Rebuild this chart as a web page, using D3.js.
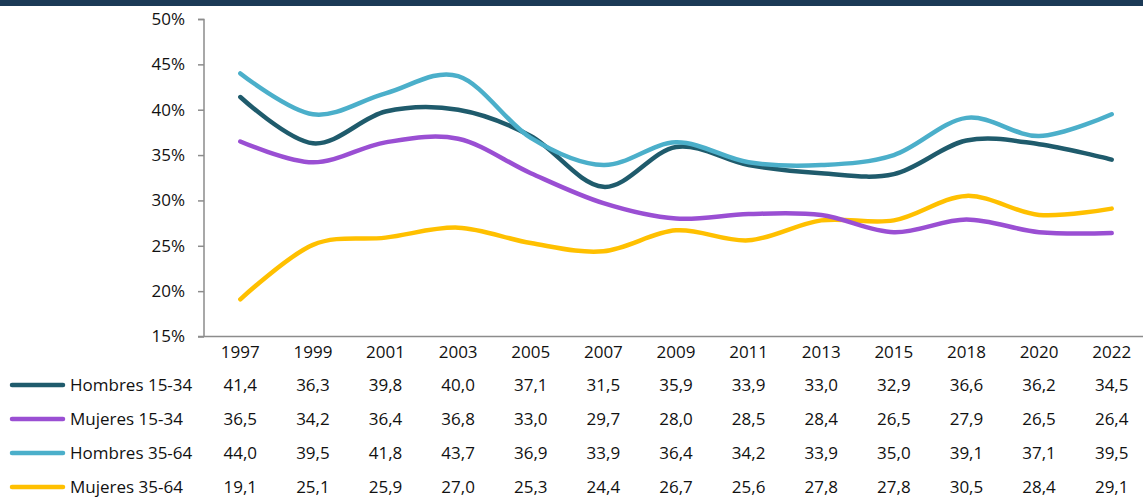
<!DOCTYPE html>
<html><head><meta charset="utf-8">
<script src="https://cdn.jsdelivr.net/npm/d3@7"></script>
<style>
html,body{margin:0;padding:0;background:#fff;}
svg text{font-family:"Open Sans","Noto Sans",sans-serif;fill:#111;}
</style></head>
<body><svg id="c" width="1143" height="498"></svg>
<script>
const years = ["1997","1999","2001","2003","2005","2007","2009","2011","2013","2015","2018","2020","2022"];
const hombres1534 = [41.4,36.3,39.8,40.0,37.1,31.5,35.9,33.9,33.0,32.9,36.6,36.2,34.5];
const mujeres1534 = [36.5,34.2,36.4,36.8,33.0,29.7,28.0,28.5,28.4,26.5,27.9,26.5,26.4];
const hombres3564 = [44.0,39.5,41.8,43.7,36.9,33.9,36.4,34.2,33.9,35.0,39.1,37.1,39.5];
const mujeres3564 = [19.1,25.1,25.9,27.0,25.3,24.4,26.7,25.6,27.8,27.8,30.5,28.4,29.1];
const seriesNames = ["Hombres 15-34","Mujeres 15-34","Hombres 35-64","Mujeres 35-64"];
const yTicks = [15,20,25,30,35,40,45,50];

const colors = ["#1f5b6c","#9a4fd3","#4bafca","#ffc000"];
const seriesData = [hombres1534, mujeres1534, hombres3564, mujeres3564];
const FS = 17;

const svg = d3.select("#c");
svg.append("rect").attr("x",0).attr("y",0).attr("width",1143).attr("height",6).attr("fill","#1b3a56");

const x = d3.scaleBand().domain(years).range([204,1148]);
const y = d3.scaleLinear().domain([15,50]).range([336.5,19]);

// y axis
const yAxis = svg.append("g").attr("transform","translate(204,0)")
  .call(d3.axisLeft(y).tickValues(yTicks).tickSize(6).tickPadding(13).tickFormat(d=>d+"%"));
yAxis.selectAll("path,line").attr("stroke","#8c8c8c").attr("stroke-width",1.5);
yAxis.select(".domain").attr("d","M-6,19.5H0V336.5");
yAxis.selectAll("text").attr("font-size",FS).attr("font-family","'Open Sans','Noto Sans',sans-serif").attr("fill","#111");

// x axis line
svg.append("line").attr("x1",198).attr("x2",1143).attr("y1",336.5).attr("y2",336.5)
  .attr("stroke","#8c8c8c").attr("stroke-width",1.5);

// lines
const line = d3.line().x((d,i)=>x(years[i])+x.bandwidth()/2).y(d=>y(d)).curve(d3.curveCatmullRom.alpha(0));
const order = [3,1,0,2];
order.forEach(k=>{
  svg.append("path").attr("d",line(seriesData[k])).attr("fill","none")
    .attr("stroke",colors[k]).attr("stroke-width",4.5).attr("stroke-linecap","round").attr("stroke-linejoin","round");
});

// table header
svg.append("g").selectAll("text").data(years).join("text")
  .attr("x",d=>x(d)+x.bandwidth()/2).attr("y",358).attr("text-anchor","middle")
  .attr("font-size",FS).text(d=>d);

const rowY = [385,419,453,487];
seriesData.forEach((vals,k)=>{
  const g = svg.append("g");
  g.append("line").attr("x1",12).attr("x2",63).attr("y1",rowY[k]).attr("y2",rowY[k])
    .attr("stroke",colors[k]).attr("stroke-width",4.5).attr("stroke-linecap","round");
  g.append("text").attr("x",70).attr("y",rowY[k]+6).attr("font-size",FS).text(seriesNames[k]);
  g.selectAll("text.v").data(vals).join("text").attr("class","v")
    .attr("x",(d,i)=>x(years[i])+x.bandwidth()/2).attr("y",rowY[k]+6).attr("text-anchor","middle")
    .attr("font-size",FS).text(d=>d.toFixed(1).replace(".",","));
});
</script></body></html>
